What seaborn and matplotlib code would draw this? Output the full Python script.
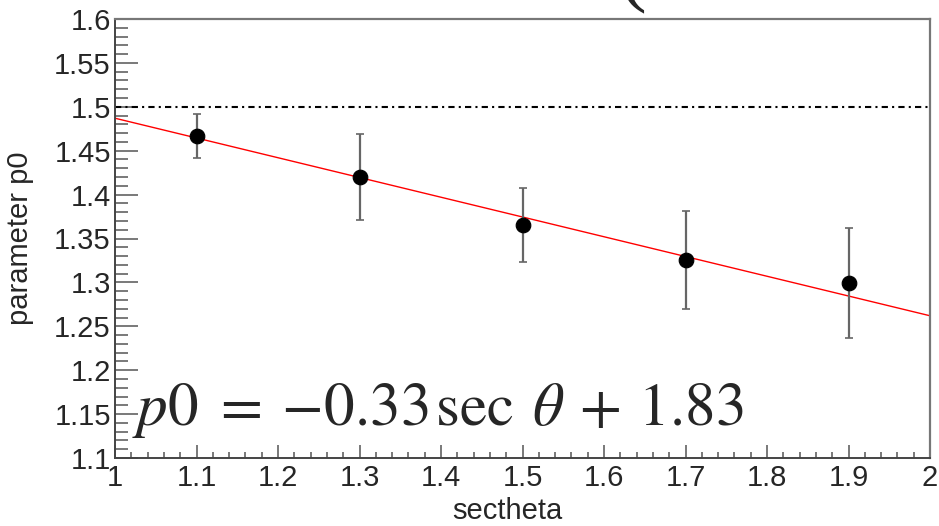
import numpy as np
import pandas as pd
import matplotlib
matplotlib.use('Agg')
import matplotlib.pyplot as plt
import seaborn as sns
from matplotlib.ticker import MultipleLocator, FormatStrFormatter

# data
sectheta = [1.1, 1.3, 1.5, 1.7, 1.9]
p0 = [1.4667, 1.420, 1.3654, 1.3255, 1.2993]
p0_err = [0.025, 0.049, 0.042, 0.056, 0.063]
fit_x = [1.0, 2.0]
fit_y = [1.487, 1.262]
ref_level = 1.5

df = pd.DataFrame({'sectheta': sectheta, 'p0': p0, 'err': p0_err})
fit = pd.DataFrame({'sectheta': fit_x, 'p0': fit_y})

sns.set_style('ticks')
plt.rcParams['font.family'] = ['Liberation Sans', 'DejaVu Sans']
plt.rcParams['mathtext.fontset'] = 'stix'

fig = plt.figure(figsize=(9.39, 5.26), dpi=100)
ax = fig.add_axes([115/939, 1-458/526, (930-115)/939, (458-19)/526])

ax.axhline(ref_level, color='black', lw=1.5, dashes=(3, 2, 1, 2))
sns.lineplot(data=fit, x='sectheta', y='p0', color='red', lw=1.0, ax=ax)
ax.errorbar(df['sectheta'], df['p0'], yerr=df['err'], fmt='none',
            ecolor='#666666', elinewidth=1.6, capsize=3, capthick=1.2)
sns.scatterplot(data=df, x='sectheta', y='p0', color='black', s=110,
                edgecolor='black', zorder=5, ax=ax)

ax.set_xlim(1, 2)
ax.set_ylim(1.1, 1.6)
ax.xaxis.set_major_locator(MultipleLocator(0.1))
ax.xaxis.set_minor_locator(MultipleLocator(0.02))
ax.yaxis.set_major_locator(MultipleLocator(0.05))
ax.yaxis.set_minor_locator(MultipleLocator(0.01))
ax.xaxis.set_major_formatter(FormatStrFormatter('%g'))
ax.yaxis.set_major_formatter(FormatStrFormatter('%g'))

ax.tick_params(which='both', top=False, right=False, color='#555555', width=1.1,
               direction='in')
ax.tick_params(axis='y', which='major', length=16.5, labelsize=21, pad=3)
ax.tick_params(axis='y', which='minor', length=9.4)
ax.tick_params(axis='x', which='major', length=9.4, labelsize=21, pad=4)
ax.tick_params(axis='x', which='minor', length=4.3)

for side in ['left', 'bottom']:
    ax.spines[side].set_color('#444444')
    ax.spines[side].set_linewidth(1.4)
for side in ['top', 'right']:
    ax.spines[side].set_visible(True)
    ax.spines[side].set_color('#777777')
    ax.spines[side].set_linewidth(1.6)

ax.set_xlabel('sectheta', fontsize=21)
ax.set_ylabel('parameter p0', fontsize=21)
ax.xaxis.set_label_coords((507-115)/(930-115), -(497-458)/(458-19), transform=ax.transAxes)
ax.yaxis.set_label_coords(-(115-34)/(930-115), 0.5, transform=ax.transAxes)

fig.text(132/939, 1-425/526,
         r'$p0\hspace{0.3}=\hspace{0.25}{-}0.33\hspace{0.12}\sec\hspace{0.25}\theta\hspace{0.2}+\hspace{0.2}1.83$',
         fontsize=44, va='baseline', ha='left')
fig.text(618/939, 1-14/526, '(', fontsize=60, family='Liberation Serif',
         va='bottom', ha='left')

fig.savefig('out.png', dpi=100)
